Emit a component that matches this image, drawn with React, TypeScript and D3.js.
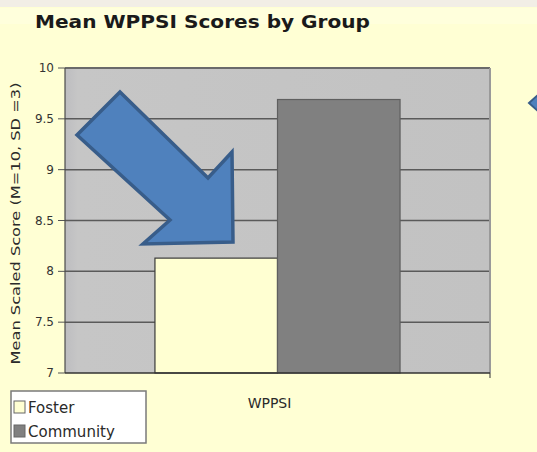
import React from 'react';
import * as d3 from 'd3';

const categories = ['WPPSI'];
const groups = ['Foster', 'Community'];
const scores = [8.13, 9.69];
const yTicks = [7, 7.5, 8, 8.5, 9, 9.5, 10];
const groupColors = ['#FFFFD2', '#808080'];
const groupStrokes = ['#3a3a3a', '#5f5f5f'];

const W = 537;
const H = 452;
const margin = { top: 68, right: 47, bottom: 79, left: 65 };

const App = () => {
  const x = d3.scaleBand<string>()
    .domain(categories)
    .range([margin.left, W - margin.right])
    .paddingInner(0)
    .paddingOuter(0.367);

  const xg = d3.scaleBand<string>()
    .domain(groups)
    .range([0, x.bandwidth()]);

  const y = d3.scaleLinear()
    .domain([7, 10])
    .range([H - margin.bottom, margin.top]);

  const plotL = margin.left;
  const plotR = W - margin.right;
  const plotT = y(10);
  const plotB = y(7);

  // big arrow pointing at the foster bar (shape in page pixels)
  const arrow = [
    [120, 92], [208, 178], [232, 152], [233, 242],
    [143, 244], [170, 220], [77, 135],
  ];
  const arrowPath = d3.line()(arrow as [number, number][]) + 'Z';

  return (
    <svg
      width={W}
      height={H}
      style={{ position: 'absolute', left: 0, top: 0, fontFamily: 'Verdana, "DejaVu Sans", sans-serif' }}
    >
      <defs>
        <linearGradient id="plotBg" x1="0" x2="1" y1="0" y2="0">
          <stop offset="0" stopColor="#bdbdc0" />
          <stop offset="0.03" stopColor="#c6c6c6" />
          <stop offset="1" stopColor="#c2c2c2" />
        </linearGradient>
      </defs>

      <rect x={0} y={0} width={W} height={H} fill="#FFFFD4" />
      <rect x={0} y={0} width={W} height={7} fill="#F2EEE6" />
      <rect x={0} y={8} width={W} height={16} fill="#FFFFE0" opacity={0.7} />

      <text x={35} y={28} fontSize={17} fontWeight="bold" fill="#1a1a1a"
        textLength={335} lengthAdjust="spacingAndGlyphs">
        Mean WPPSI Scores by Group
      </text>

      {/* plot area */}
      <rect x={plotL} y={plotT} width={plotR - plotL} height={plotB - plotT} fill="url(#plotBg)" />

      {yTicks.map(t => (
        <g key={t}>
          {t > 7 && t < 10 && (
            <line x1={plotL} x2={plotR} y1={y(t)} y2={y(t)} stroke="#5a5a5a" strokeWidth={1.5} />
          )}
          <line x1={plotL - 7} x2={plotL} y1={y(t)} y2={y(t)} stroke="#555" strokeWidth={1} />
          <text x={plotL - 11} y={y(t) + 4} fontSize={12} textAnchor="end" fill="#333">
            {t}
          </text>
        </g>
      ))}

      <line x1={plotL} x2={plotR} y1={plotT} y2={plotT} stroke="#6a6a6a" strokeWidth={2} />
      <line x1={plotR} x2={plotR} y1={plotT} y2={plotB} stroke="#9a9a9a" strokeWidth={2} />

      {categories.map(c => (
        <g key={c} transform={`translate(${x(c)},0)`}>
          {groups.map((g, i) => (
            <rect
              key={g}
              x={xg(g)}
              y={y(scores[i])}
              width={xg.bandwidth()}
              height={plotB - y(scores[i])}
              fill={groupColors[i]}
              stroke={groupStrokes[i]}
              strokeWidth={1.2}
            />
          ))}
        </g>
      ))}

      <line x1={plotL} x2={plotL} y1={plotT} y2={plotB} stroke="#4a4a4a" strokeWidth={1.2} />
      <line x1={plotL} x2={plotR} y1={plotB} y2={plotB} stroke="#333" strokeWidth={1.5} />
      <line x1={plotR} x2={plotR} y1={plotB} y2={plotB + 5} stroke="#333" strokeWidth={1} />

      {categories.map(c => (
        <text key={c} x={(x(c) ?? 0) + x.bandwidth() / 2 - 8} y={408} fontSize={14}
          textAnchor="middle" fill="#2a2a2a">
          {c}
        </text>
      ))}

      <text
        transform={`translate(20,${(plotT + plotB) / 2 + 3}) rotate(-90)`}
        fontSize={13}
        textAnchor="middle"
        fill="#2a2a2a"
        textLength={282}
        lengthAdjust="spacingAndGlyphs"
      >
        Mean Scaled Score (M=10, SD =3)
      </text>

      {/* legend */}
      <rect x={11} y={391} width={135} height={52} fill="#ffffff" stroke="#7a7a7a" strokeWidth={1.5} />
      {groups.map((g, i) => (
        <g key={g} transform={`translate(14,${401 + i * 24})`}>
          <rect x={0} y={0} width={11} height={12} fill={groupColors[i]} stroke="#666" strokeWidth={1} />
          <text x={14} y={12} fontSize={15} fill="#2a2a2a">{g}</text>
        </g>
      ))}

      <path d={arrowPath} fill="#4F81BD" stroke="#385D8A" strokeWidth={3.5} strokeLinejoin="miter" />
      <path d="M529,103L540,93L540,113Z" fill="#4F81BD" stroke="#385D8A" strokeWidth={2} />
    </svg>
  );
};

export default App;
